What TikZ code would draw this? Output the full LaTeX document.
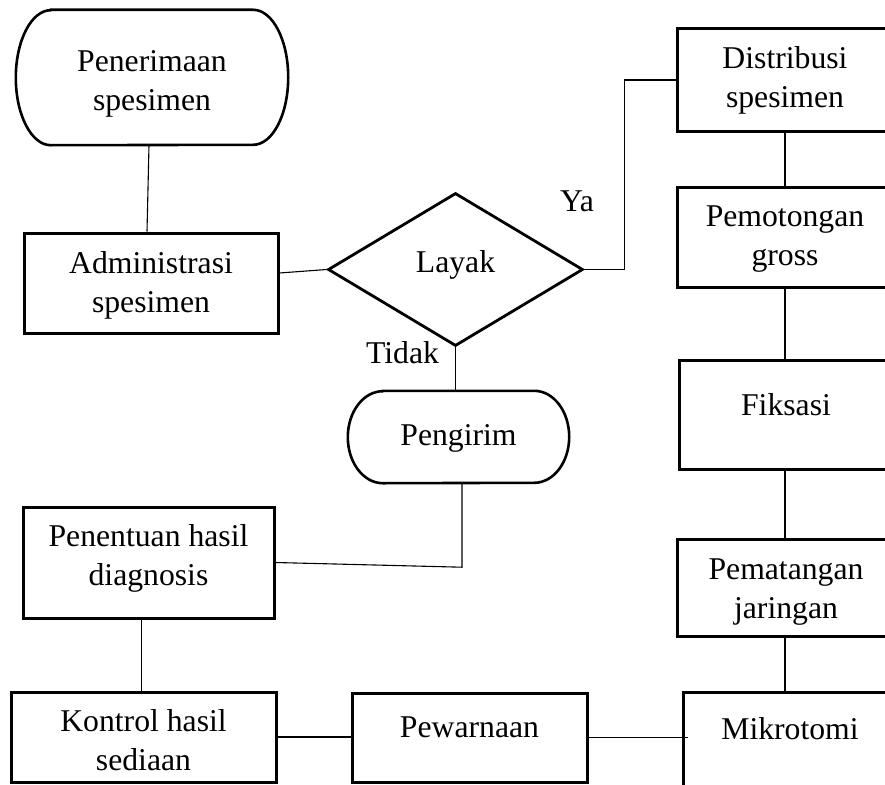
\documentclass[tikz,border=0pt]{standalone}
\usepackage{fontspec}
\setmainfont{Liberation Serif}
\usetikzlibrary{shapes.geometric,calc}
\newcommand\diagfont{\fontsize{31.7pt}{38.5pt}\selectfont}
\tikzset{
  box/.style={draw, rectangle, line width=3pt, inner sep=0pt, align=center, font=\diagfont},
  termbox/.style={rectangle, draw=none, inner sep=0pt, align=center, font=\diagfont},
  termline/.style={line width=2.6pt},
  decision/.style={draw, diamond, line width=2.8pt, inner sep=0pt, aspect=1.667, font=\diagfont},
  conn/.style={line width=1.1pt},
  lbl/.style={inner sep=0pt, anchor=base, font=\diagfont}
}
\begin{document}
\begin{tikzpicture}[x=1pt,y=-1pt]
\useasboundingbox (0,0) rectangle (885,784);
\clip (0,0) rectangle (885,784);
\coordinate (col) at (785,0);

% terminators
\node[termbox, minimum width=272pt, minimum height=135pt, text height=65pt, text depth=0pt] (pen) at (152,77.5) {Penerimaan\\spesimen};
\draw[termline] ([xshift=35pt]pen.north west) -- ([xshift=-35pt]pen.north east)
  arc[start angle=90, end angle=-90, x radius=35pt, y radius=67.5pt]
  -- ([xshift=35pt]pen.south west)
  arc[start angle=270, end angle=90, x radius=35pt, y radius=67.5pt] -- cycle;

\node[termbox, minimum width=221pt, minimum height=92pt, text height=16pt, text depth=0pt] (peng) at (458.5,437) {Pengirim};
\draw[termline] ([xshift=35pt]peng.north west) -- ([xshift=-35pt]peng.north east)
  arc[start angle=90, end angle=-90, x radius=35pt, y radius=46pt]
  -- ([xshift=35pt]peng.south west)
  arc[start angle=270, end angle=90, x radius=35pt, y radius=46pt] -- cycle;

% left column
\node[box, minimum width=254pt, minimum height=100pt, text height=58pt, text depth=0pt] (adm) at (151,283) {Administrasi\\spesimen};
\node[box, minimum width=251pt, minimum height=111pt, text height=45pt, text depth=0pt] (pnt) at (148.5,562.5) {Penentuan hasil\\diagnosis};
\node[box, minimum width=265pt, minimum height=90pt, text height=66pt, text depth=0pt] (kon) at (143.5,737) {Kontrol hasil\\sediaan};

% decision
\node[decision, minimum width=255pt, minimum height=153pt, text height=5pt, text depth=0pt] (lay) at (455.5,269.5) {Layak};

% middle bottom
\node[box, minimum width=235pt, minimum height=89pt, text height=0pt, text depth=1pt] (pew) at (469.5,737.5) {Pewarnaan};

% right column (right edges run off the picture)
\node[box, minimum width=216pt, minimum height=102pt, text height=54pt, text depth=0pt] (dist) at (785,80) {Distribusi\\spesimen};
\node[box, minimum width=216pt, minimum height=100pt, text height=56pt, text depth=0pt] (pemo) at (785,237) {Pemotongan\\gross};
\node[box, minimum width=214pt, minimum height=109pt, text height=1pt, text depth=0pt] (fik) at (786,414.5) {Fiksasi};
\node[box, minimum width=218pt, minimum height=97pt, text height=61pt, text depth=0pt] (pemat) at (786,587.5) {Pematangan\\jaringan};
\node[box, minimum width=214pt, minimum height=108pt, text height=0pt, text depth=14pt] (mik) at (790,746) {Mikrotomi};

% labels
\node[lbl] (ya) at (577,211) {Ya};
\node[lbl] (tidak) at (402.5,363) {Tidak};

% connectors
\draw[conn] ([xshift=-3pt]pen.south) -- ([xshift=-4pt]adm.north);
\draw[conn] ([yshift=10pt]adm.east) -- (lay.west);
\draw[conn] (lay.east) -- ++(40,0) |- (dist.west);
\draw[conn] (lay.south) -- (lay.south |- peng.north);
\draw[conn] ([xshift=3.5pt]peng.south) -- ++(0,84) -- (pnt.east);
\draw[conn] ([xshift=-7pt]pnt.south) -- ([xshift=-7pt]pnt.south |- kon.north);
\draw[conn] (kon.east) -- (kon.east -| pew.west);
\draw[conn] (pew.east) -- ([xshift=6pt]pew.east -| mik.west);
\draw[conn] (dist.south -| col) -- (pemo.north -| col);
\draw[conn] (pemo.south -| col) -- (fik.north -| col);
\draw[conn] (fik.south -| col) -- (pemat.north -| col);
\draw[conn] (pemat.south -| col) -- (mik.north -| col);
\end{tikzpicture}
\end{document}
